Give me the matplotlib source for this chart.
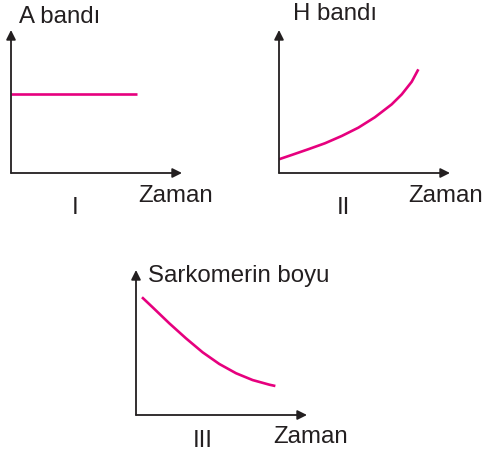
import matplotlib
matplotlib.use("Agg")
import matplotlib.pyplot as plt

W, H = 485, 457
PINK = "#E6007E"
AXC = "#231F20"
plt.rcParams['font.family'] = ['Liberation Sans', 'DejaVu Sans']

# data (arbitrary units, axes span 0..10 in both directions)
t1 = [0.0, 7.37]
a_band = [5.52, 5.52]

t2 = [0, 0.74, 1.71, 2.69, 3.67, 4.64, 5.61, 6.59, 7.18, 7.76, 8.15]
h_band = [0.96, 1.26, 1.66, 2.08, 2.59, 3.17, 3.90, 4.80, 5.50, 6.38, 7.25]

t3 = [0.35, 0.97, 1.95, 2.92, 3.90, 4.87, 5.85, 6.82, 7.80, 8.15]
sarkomer = [8.12, 7.43, 6.32, 5.29, 4.32, 3.52, 2.88, 2.41, 2.09, 2.00]

ylabels = ["A bandı", "H bandı", "Sarkomerin boyu"]
xlabel = "Zaman"
numerals = ["I", "II", "III"]

fig = plt.figure(figsize=(W / 100, H / 100), dpi=100)


def make_ax(x0, y0, xend, ytop):
    ax = fig.add_axes([x0 / W, 1 - y0 / H, (xend - x0) / W, (y0 - ytop) / H])
    ax.set_xlim(0, 10)
    ax.set_ylim(0, 10)
    ax.axis("off")
    ap = dict(arrowstyle="-|>", color=AXC, lw=1.3, shrinkA=0, shrinkB=0,
              mutation_scale=14)
    ax.annotate("", xy=(1, 0), xytext=(0, 0), xycoords="axes fraction",
                textcoords="axes fraction", arrowprops=ap, annotation_clip=False)
    ax.annotate("", xy=(0, 1), xytext=(0, 0), xycoords="axes fraction",
                textcoords="axes fraction", arrowprops=ap, annotation_clip=False)
    return ax


def ftext(x, y, s, ha="left"):
    fig.text(x / W, 1 - y / H, s, ha=ha, va="baseline", fontsize=17.3,
             color=AXC)


line_kw = dict(color=PINK, lw=1.9, solid_capstyle="butt",
               solid_joinstyle="round")
ax1 = make_ax(11, 173, 182, 30)
ax1.plot(t1, a_band, **line_kw)
ax2 = make_ax(279, 173, 450, 30)
ax2.plot(t2, h_band, **line_kw)
ax3 = make_ax(136, 415, 307, 270)
ax3.plot(t3, sarkomer, **line_kw)

ftext(19, 23, ylabels[0])
ftext(293, 20, ylabels[1])
ftext(148, 282, ylabels[2])
ftext(138, 202, xlabel)
ftext(408, 202, xlabel)
ftext(273, 443, xlabel)
ftext(75, 214, numerals[0], ha="center")
ftext(343, 214, numerals[1], ha="center")
ftext(203, 447, numerals[2], ha="center")

fig.savefig("out.png", dpi=100, facecolor="white")
